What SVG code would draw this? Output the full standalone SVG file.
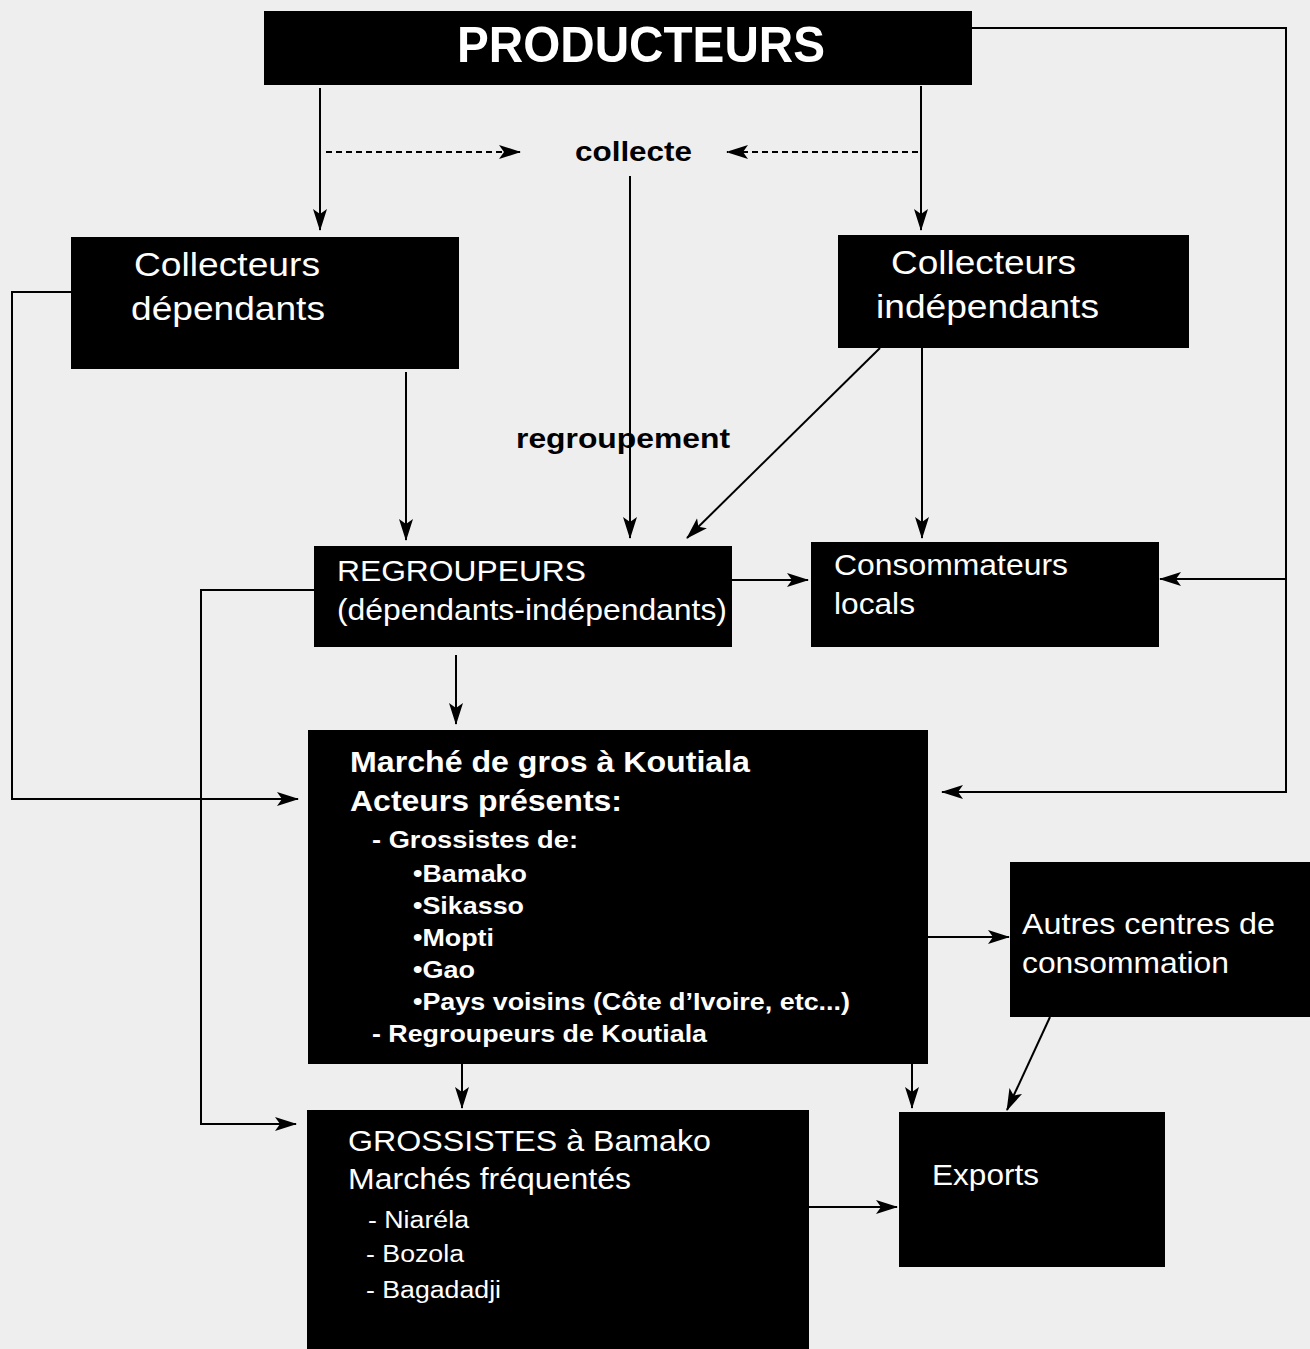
<svg xmlns="http://www.w3.org/2000/svg" width="1310" height="1349" viewBox="0 0 1310 1349">
<defs>
<style>
.box{fill:#000}
.t{fill:#fff;font-family:"Liberation Sans",Arial,sans-serif}
.b{font-weight:bold}
.lbl{fill:#000;font-family:"Liberation Sans",Arial,sans-serif;font-weight:bold;font-size:28px}
.c{fill:none;stroke:#000;stroke-width:2}
.a{marker-end:url(#ah)}
.d{stroke-dasharray:6 4}
</style>
<marker id="ah" markerUnits="userSpaceOnUse" markerWidth="24" markerHeight="16" refX="21" refY="7" orient="auto">
<path d="M0,0 L22,7 L0,14 L5,7 z" fill="#000"/>
</marker>
</defs>
<rect width="1310" height="1349" fill="#eeeeee"/>
<g id="connectors">
<path class="c a" d="M320,88 V230"/>
<path class="c a" d="M921,86 V230"/>
<path class="c d a" d="M326,152 H520"/>
<path class="c d a" d="M918,152 H727"/>
<path class="c a" d="M630,176 V538"/>
<path class="c a" d="M406,372 V540"/>
<path class="c a" d="M880,348 L687,538"/>
<path class="c a" d="M922,348 V538"/>
<path class="c a" d="M732,580 H808"/>
<path class="c a" d="M972,28 H1286 V792 H942"/>
<path class="c a" d="M1286,579 H1160"/>
<path class="c a" d="M71,292 H12 V799 H298"/>
<path class="c a" d="M314,590 H201 V1124 H296"/>
<path class="c a" d="M456,655 V724"/>
<path class="c a" d="M462,1064 V1108"/>
<path class="c a" d="M912,1064 V1108"/>
<path class="c a" d="M928,937 H1009"/>
<path class="c a" d="M1050,1017 L1007,1110"/>
<path class="c a" d="M809,1207 H897"/>
</g>
<g id="labels">
<text class="lbl" x="575" y="161" textLength="117" lengthAdjust="spacingAndGlyphs">collecte</text>
<text class="lbl" x="516" y="448" textLength="214" lengthAdjust="spacingAndGlyphs">regroupement</text>
</g>
<g id="producteurs">
<rect class="box" x="264" y="11" width="708" height="74"/>
<text class="t b" x="457" y="62" font-size="50" textLength="368" lengthAdjust="spacingAndGlyphs">PRODUCTEURS</text>
</g>
<g id="collecteurs-dependants">
<rect class="box" x="71" y="237" width="388" height="132"/>
<text class="t" x="134" y="276" font-size="33" textLength="186" lengthAdjust="spacingAndGlyphs">Collecteurs</text>
<text class="t" x="131" y="320" font-size="33" textLength="194" lengthAdjust="spacingAndGlyphs">dépendants</text>
</g>
<g id="collecteurs-independants">
<rect class="box" x="838" y="235" width="351" height="113"/>
<text class="t" x="891" y="274" font-size="33" textLength="185" lengthAdjust="spacingAndGlyphs">Collecteurs</text>
<text class="t" x="876" y="318" font-size="33" textLength="223" lengthAdjust="spacingAndGlyphs">indépendants</text>
</g>
<g id="regroupeurs">
<rect class="box" x="314" y="546" width="418" height="101"/>
<text class="t" x="337" y="581" font-size="29" textLength="249" lengthAdjust="spacingAndGlyphs">REGROUPEURS</text>
<text class="t" x="337" y="620" font-size="29" textLength="390" lengthAdjust="spacingAndGlyphs">(dépendants-indépendants)</text>
</g>
<g id="consommateurs-locaux">
<rect class="box" x="811" y="542" width="348" height="105"/>
<text class="t" x="834" y="575" font-size="29" textLength="234" lengthAdjust="spacingAndGlyphs">Consommateurs</text>
<text class="t" x="834" y="614" font-size="29" textLength="81" lengthAdjust="spacingAndGlyphs">locals</text>
</g>
<g id="marche-koutiala">
<rect class="box" x="308" y="730" width="620" height="334"/>
<text class="t b" x="350" y="772" font-size="29" textLength="400" lengthAdjust="spacingAndGlyphs">Marché de gros à Koutiala</text>
<text class="t b" x="350" y="811" font-size="29" textLength="272" lengthAdjust="spacingAndGlyphs">Acteurs présents:</text>
<text class="t b" x="372" y="848" font-size="23" textLength="206" lengthAdjust="spacingAndGlyphs">- Grossistes de:</text>
<text class="t b" x="413" y="882" font-size="23" textLength="114" lengthAdjust="spacingAndGlyphs">•Bamako</text>
<text class="t b" x="413" y="914" font-size="23" textLength="111" lengthAdjust="spacingAndGlyphs">•Sikasso</text>
<text class="t b" x="413" y="946" font-size="23" textLength="81" lengthAdjust="spacingAndGlyphs">•Mopti</text>
<text class="t b" x="413" y="978" font-size="23" textLength="62" lengthAdjust="spacingAndGlyphs">•Gao</text>
<text class="t b" x="413" y="1010" font-size="23" textLength="437" lengthAdjust="spacingAndGlyphs">•Pays voisins (Côte d’Ivoire, etc...)</text>
<text class="t b" x="372" y="1042" font-size="23" textLength="335" lengthAdjust="spacingAndGlyphs">- Regroupeurs de Koutiala</text>
</g>
<g id="autres-centres">
<rect class="box" x="1010" y="862" width="300" height="155"/>
<text class="t" x="1022" y="934" font-size="29" textLength="253" lengthAdjust="spacingAndGlyphs">Autres centres de</text>
<text class="t" x="1022" y="973" font-size="29" textLength="207" lengthAdjust="spacingAndGlyphs">consommation</text>
</g>
<g id="grossistes-bamako">
<rect class="box" x="307" y="1110" width="502" height="239"/>
<text class="t" x="348" y="1151" font-size="29" textLength="363" lengthAdjust="spacingAndGlyphs">GROSSISTES à Bamako</text>
<text class="t" x="348" y="1189" font-size="29" textLength="283" lengthAdjust="spacingAndGlyphs">Marchés fréquentés</text>
<text class="t" x="368" y="1228" font-size="23" textLength="101" lengthAdjust="spacingAndGlyphs">- Niaréla</text>
<text class="t" x="366" y="1262" font-size="23" textLength="98" lengthAdjust="spacingAndGlyphs">- Bozola</text>
<text class="t" x="366" y="1298" font-size="23" textLength="135" lengthAdjust="spacingAndGlyphs">- Bagadadji</text>
</g>
<g id="exports">
<rect class="box" x="899" y="1112" width="266" height="155"/>
<text class="t" x="932" y="1185" font-size="29" textLength="107" lengthAdjust="spacingAndGlyphs">Exports</text>
</g>
</svg>
